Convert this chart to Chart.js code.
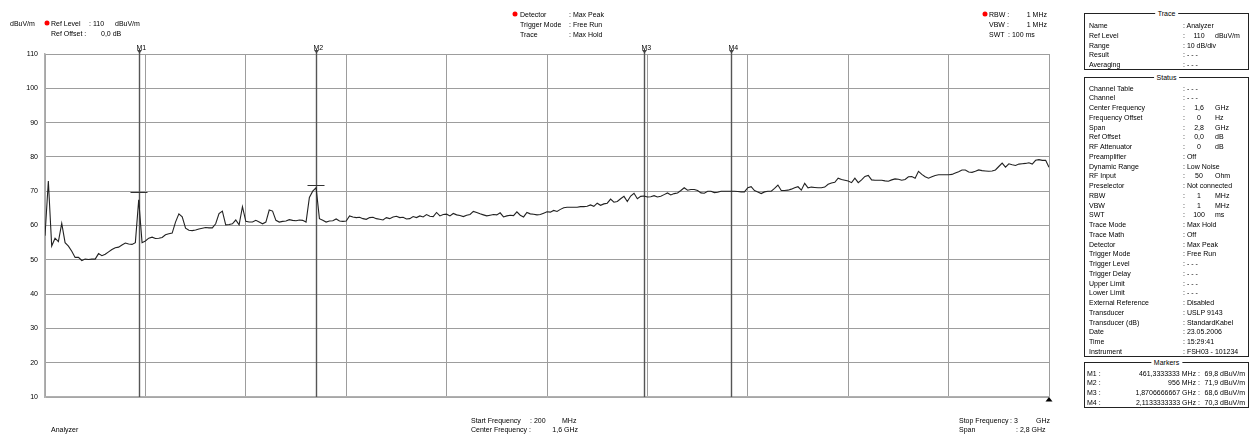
<!DOCTYPE html>
<html><head><meta charset="utf-8">
<script src="https://cdn.jsdelivr.net/npm/chart.js@4.4.1/dist/chart.umd.min.js"></script>
<style>
html,body{margin:0;padding:0;background:#fff;}
#wrap{position:relative;width:1253px;height:434px;overflow:hidden;font-family:"Liberation Sans",Arial,sans-serif;font-size:7px;color:#000;}
#c{position:absolute;left:0;top:0;}
.t{position:absolute;white-space:pre;line-height:9px;transform:translateY(-50%);}
.t.r{transform:translate(-100%,-50%);}
.t.c{transform:translate(-50%,-50%);}
.dot{position:absolute;width:5px;height:5px;border-radius:50%;background:#f00;transform:translate(-50%,-50%);}
.box{position:absolute;border:1px solid #222;box-sizing:border-box;}
.ttl{background:#fff;padding:0 3px;color:#000;}
</style></head>
<body><div id="wrap"><canvas id="c" width="1253" height="434"></canvas></div>
<script>
// ---- data ----
const startFreqMHz = 200;
const stopFreqMHz = 3000;
const gridStepMHz = 280;
const yMin = 10, yMax = 110, yStep = 10;
const traceLevels = [
57,73,54,56.3,55.3,60.6,55,54,52.5,50.7,
50.7,49.8,50.2,50.1,50.2,50.2,51.8,51.2,51.6,52.3,
53,53.5,53.7,54.3,54.9,54.6,54.5,55,67.5,55,
55.5,56.3,56.6,56.2,56.3,56.5,57.3,57.6,57.8,61,
63.4,62.5,59.2,58.6,58.5,58.7,59,59.2,59.4,59.3,
59.3,60.5,63.5,64.2,60.2,60.3,60.5,61.6,60.2,65.5,
61.2,61,61,61.5,61,60.5,61,64.5,64.2,61.5,
61,61.2,61.3,61.7,61.5,61.4,61.6,61.5,61,68.2,
70,71,62,61.5,61,61.3,61.4,61.9,61.3,61.2,
61.3,62.8,62.5,62.3,62.4,62,61.8,62.3,62.4,62,
61.8,61.6,62.3,62,62.5,62.7,62.3,62.4,61.9,62,
62.6,62.3,62.8,62.5,63.2,62.7,62.6,63.8,62.8,63.2,
63.3,62.8,63.5,63.1,62.9,62.6,63,63.2,64.1,63.8,
63.4,63.1,62.8,63,63.2,63.1,63.7,62.5,62.8,63,
62.9,64,63,62.5,63.8,63.4,63.3,63.1,63.2,63.6,
64,63.9,64.4,64.1,64.7,65.2,65.3,65.3,65.3,65.3,
65.5,65.5,65.6,66,65.6,66.5,65.9,66.3,66.5,67.7,
66.8,67,67.8,68.5,67,68.6,69.4,67.8,68.5,68.6,
68.3,68.4,68.7,68.3,68.5,69,69.5,68.9,69.3,69.5,
70.2,71,70.3,70.5,70.5,70.2,69.5,69.4,70,70,
69.6,69.7,70,70,70,70,70,69.9,69.8,69.8,
71,71.3,70.2,69.8,69.3,69.8,70,70,70.8,71.8,
70.2,70.2,70.3,70.6,71,71.3,70.3,72.3,71,71.2,
71.1,71,71,71.2,72,72.4,72.6,73.8,73.4,73.2,
73,72.5,73.8,72.5,73.3,74.3,74.6,73.3,73.2,73.2,
73.2,73,72.9,73.3,73.6,73.5,73.2,73.4,74.2,74.3,
73.8,75.8,74.9,74.2,73.8,74.2,74.6,74.8,74.8,74.8,
74.8,74.9,75.3,75.7,76.2,76.2,75.6,75.5,75.8,76.2,
76,75.9,75.8,75.9,76.2,77.2,78.2,77,78,77.7,
77.5,77.9,78,78.1,78.3,77.9,79,79.2,79,79,
77
];
const markerNames = ['M1','M2','M3','M4'];
const markerFreqsMHz = [461.3333333, 956, 1870.6666667, 2113.3333333];
const markerLevels = [69.8, 71.9, 68.6, 70.3];
const markerShowLevel = [true, true, false, false];
const markerFreqTexts = ['461,3333333 MHz','956 MHz','1,8706666667 GHz','2,1133333333 GHz'];
const markerLevelTexts = ['69,8 dBuV/m','71,9 dBuV/m','68,6 dBuV/m','70,3 dBuV/m'];

const traceRows = [
  ['Name','Analyzer'],
  ['Ref Level','110','dBuV/m'],
  ['Range','10 dB/div'],
  ['Result','- - -'],
  ['Averaging','- - -']
];
const statusRows = [
  ['Channel Table','- - -'],
  ['Channel','- - -'],
  ['Center Frequency','1,6','GHz'],
  ['Frequency Offset','0','Hz'],
  ['Span','2,8','GHz'],
  ['Ref Offset','0,0','dB'],
  ['RF Attenuator','0','dB'],
  ['Preamplifier','Off'],
  ['Dynamic Range','Low Noise'],
  ['RF Input','50','Ohm'],
  ['Preselector','Not connected'],
  ['RBW','1','MHz'],
  ['VBW','1','MHz'],
  ['SWT','100','ms'],
  ['Trace Mode','Max Hold'],
  ['Trace Math','Off'],
  ['Detector','Max Peak'],
  ['Trigger Mode','Free Run'],
  ['Trigger Level','- - -'],
  ['Trigger Delay','- - -'],
  ['Upper Limit','- - -'],
  ['Lower Limit','- - -'],
  ['External Reference','Disabled'],
  ['Transducer','USLP 9143'],
  ['Transducer (dB)','StandardKabel'],
  ['Date','23.05.2006'],
  ['Time','15:29:41'],
  ['Instrument','FSH03 - 101234']
];

// ---- chart ----
const n = traceLevels.length;
const points = traceLevels.map((v,i)=>({x: startFreqMHz + i*(stopFreqMHz-startFreqMHz)/(n-1), y: v}));

const markerPlugin = {
  id:'markerLines',
  beforeDatasetsDraw(chart){
    const {ctx, chartArea:a, scales:{x,y}} = chart;
    ctx.save();
    markerFreqsMHz.forEach((f,i)=>{
      const px = Math.round(x.getPixelForValue(f)) + 0.5;
      ctx.strokeStyle = '#555'; ctx.lineWidth = 1.4;
      ctx.beginPath(); ctx.moveTo(px, a.top - 3); ctx.lineTo(px, a.bottom); ctx.stroke();
      ctx.fillStyle = '#444';
      ctx.beginPath(); ctx.moveTo(px-2.5, a.top-4); ctx.lineTo(px+2.5, a.top-4); ctx.lineTo(px, a.top-0.5); ctx.closePath(); ctx.fill();
      if (markerShowLevel[i]) {
        const py = Math.round(y.getPixelForValue(markerLevels[i])) + 0.5;
        ctx.strokeStyle = '#333'; ctx.lineWidth = 1;
        ctx.beginPath(); ctx.moveTo(px-9, py); ctx.lineTo(px+8, py); ctx.stroke();
      }
    });
    ctx.restore();
  },
  afterDraw(chart){
    const {ctx, chartArea:a} = chart;
    ctx.save();
    ctx.fillStyle = '#000';
    ctx.beginPath(); ctx.moveTo(a.right, a.bottom); ctx.lineTo(a.right-3.5, a.bottom+4.5); ctx.lineTo(a.right+3.5, a.bottom+4.5); ctx.closePath(); ctx.fill();
    ctx.restore();
  }
};

const chart = new Chart(document.getElementById('c'), {
  type:'line',
  data:{datasets:[{data:points, borderColor:'#222', borderWidth:1.1, pointRadius:0, tension:0, fill:false}]},
  options:{
    responsive:false, animation:false, devicePixelRatio:1,
    layout:{padding:{left:0, top:54, right:204, bottom:37}},
    plugins:{legend:{display:false}, tooltip:{enabled:false}},
    scales:{
      x:{type:'linear', min:startFreqMHz, max:stopFreqMHz,
         ticks:{display:false, stepSize:gridStepMHz},
         grid:{color:'#9d9d9d', lineWidth:1, drawTicks:false},
         border:{display:true, color:'#b0b0b0', width:1.5},
         afterFit(s){ s.height = 0; }},
      y:{type:'linear', min:yMin, max:yMax,
         ticks:{stepSize:yStep, padding:7, color:'#000', font:{family:'"Liberation Sans", Arial, sans-serif', size:7}},
         grid:{color:'#9d9d9d', lineWidth:1, drawTicks:false},
         border:{display:true, color:'#b0b0b0', width:1.5},
         afterFit(s){ s.width = 45; }}
    }
  },
  plugins:[markerPlugin]
});

// ---- text annotations ----
const wrap = document.getElementById('wrap');
function txt(x, y, s, cls){ const d=document.createElement('div'); d.className='t'+(cls?' '+cls:''); d.style.left=x+'px'; d.style.top=y+'px'; d.textContent=s; wrap.appendChild(d); return d; }
function dot(x,y){ const d=document.createElement('div'); d.className='dot'; d.style.left=x+'px'; d.style.top=y+'px'; wrap.appendChild(d); }
function box(l,t,r,b,title){ const d=document.createElement('div'); d.className='box'; d.style.left=l+'px'; d.style.top=t+'px'; d.style.width=(r-l)+'px'; d.style.height=(b-t)+'px'; wrap.appendChild(d);
  txt((l+r)/2, t, title, 'c ttl'); return d; }

// header left
txt(10, 22.5, 'dBuV/m');
dot(47, 23);
txt(51, 23, 'Ref Level'); txt(89, 23, ': 110'); txt(115, 23, 'dBuV/m');
txt(51, 33, 'Ref Offset :'); txt(101, 33, '0,0 dB');
// header middle
dot(515, 13.5);
txt(520, 13.5, 'Detector'); txt(569, 13.5, ': Max Peak');
txt(520, 23.5, 'Trigger Mode'); txt(569, 23.5, ': Free Run');
txt(520, 33.5, 'Trace'); txt(569, 33.5, ': Max Hold');
// header right
dot(985, 13.5);
txt(989, 13.5, 'RBW :'); txt(1047, 13.5, '1 MHz', 'r');
txt(989, 23.5, 'VBW :'); txt(1047, 23.5, '1 MHz', 'r');
txt(989, 33.5, 'SWT'); txt(1008, 33.5, ': 100 ms');
// bottom
txt(51, 429, 'Analyzer');
txt(471, 420, 'Start Frequency'); txt(530, 420, ': 200'); txt(562, 420, 'MHz');
txt(471, 429, 'Center Frequency :'); txt(578, 429, '1,6 GHz', 'r');
txt(959, 420, 'Stop Frequency'); txt(1010, 420, ': 3'); txt(1036, 420, 'GHz');
txt(959, 429, 'Span'); txt(1016, 429, ': 2,8 GHz');

// marker labels
markerFreqsMHz.forEach((f,i)=>{
  const px = Math.round(chart.scales.x.getPixelForValue(f));
  txt(px - 2.5, 46.5, markerNames[i]);
});

// right panel
const PL = 1084, PR = 1249, LX = 1089, CX = 1183, VC = 1199, UX = 1215, RH = 9.75;
function rows(list, y0){
  list.forEach((r,k)=>{
    const y = y0 + k*RH;
    txt(LX, y, r[0]);
    if (r.length > 2) { txt(CX, y, ':'); txt(VC, y, r[1], 'c'); txt(UX, y, r[2]); }
    else txt(CX, y, ': ' + r[1]);
  });
}
box(PL, 13, PR, 70, 'Trace');
rows(traceRows, 25);
box(PL, 76.5, PR, 357, 'Status');
rows(statusRows, 87.5);
box(PL, 362, PR, 408, 'Markers');
markerNames.forEach((m,k)=>{
  const y = 372.5 + k*RH;
  txt(1087, y, m + ' :');
  txt(1200, y, markerFreqTexts[k] + ' :', 'r');
  txt(1245, y, markerLevelTexts[k], 'r');
});
</script></body></html>
